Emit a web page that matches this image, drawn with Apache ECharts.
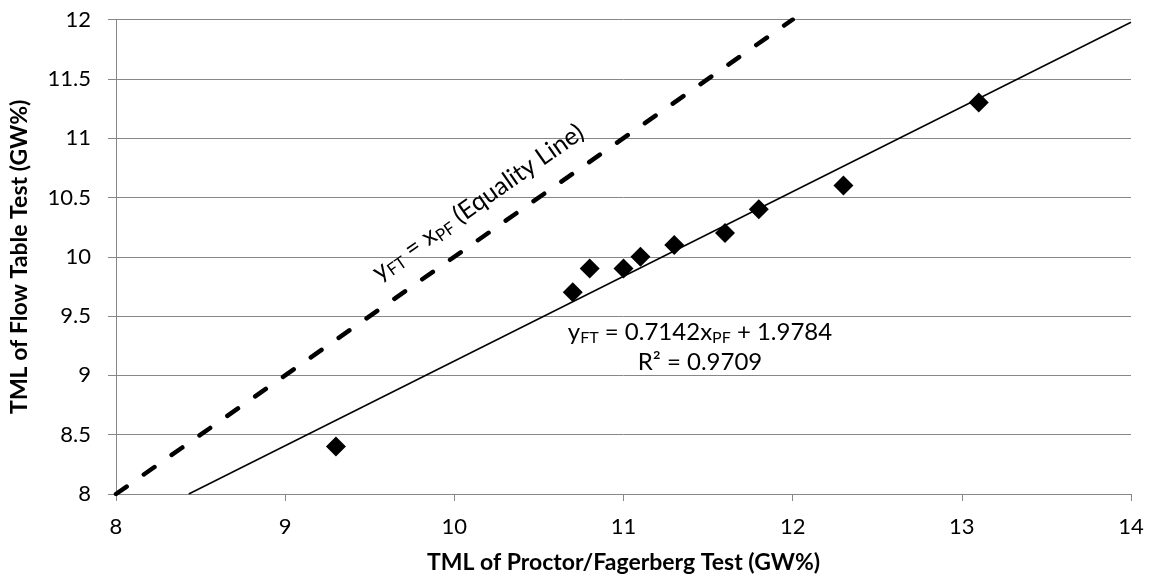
<!DOCTYPE html>
<html>
<head>
<meta charset="utf-8">
<script src="https://cdn.jsdelivr.net/npm/echarts@6/dist/echarts.min.js"></script>
<style>
  html, body { margin: 0; padding: 0; background: #fff; }
  #chart { width: 1150px; height: 582px; }
</style>
</head>
<body>
<div id="chart"></div>
<script>
// measured points (x = Proctor/Fagerberg, y = Flow Table)
var pfValues = [9.3, 10.7, 10.8, 11.0, 11.1, 11.3, 11.6, 11.8, 12.3, 13.1];
var ftValues = [8.4, 9.7, 9.9, 9.9, 10.0, 10.1, 10.2, 10.4, 10.6, 11.3];
// trend line end points and equality line end points
var trendX = [8.43, 14];
var trendY = [8.0, 11.977];
var equalX = [8, 12];
var equalY = [8, 12];

var font = 'Lato, "Liberation Sans", sans-serif';
var gridColor = '#878787';

var chart = echarts.init(document.getElementById('chart'));

function pairs(xs, ys) {
  return xs.map(function (x, i) { return [x, ys[i]]; });
}

function richStyles(size) {
  return {
    m: { fontFamily: font, fontSize: size, lineHeight: size + 4, verticalAlign: 'middle', fill: '#000' },
    s: { fontFamily: font, fontSize: Math.round(size * 0.66), lineHeight: Math.round(size * 0.62), verticalAlign: 'bottom', fill: '#000' }
  };
}

chart.setOption({
  animation: false,
  grid: { left: 116, right: 19, top: 19.5, bottom: 88, outerBoundsMode: 'none', containLabel: false },
  xAxis: {
    type: 'value',
    min: 8, max: 14, interval: 1,
    name: 'TML of Proctor/Fagerberg Test (GW%)',
    nameLocation: 'middle',
    nameGap: 57,
    nameTextStyle: { fontFamily: font, fontWeight: 'bold', fontSize: 23, color: '#000' },
    axisLine: { show: true, lineStyle: { color: gridColor, width: 1 } },
    axisTick: { show: true, length: 7, lineStyle: { color: gridColor } },
    axisLabel: { fontFamily: font, fontSize: 22, color: '#000', margin: 22 },
    splitLine: { show: false }
  },
  yAxis: {
    type: 'value',
    min: 8, max: 12, interval: 0.5,
    name: 'TML of Flow Table Test (GW%)',
    nameLocation: 'middle',
    nameGap: 85,
    nameTextStyle: { fontFamily: font, fontWeight: 'bold', fontSize: 23, color: '#000' },
    axisLine: { show: true, lineStyle: { color: gridColor, width: 1 } },
    axisTick: { show: true, length: 8, lineStyle: { color: gridColor } },
    axisLabel: { fontFamily: font, fontSize: 22, color: '#000', margin: 25 },
    splitLine: { show: true, lineStyle: { color: gridColor, width: 1 } }
  },
  series: [
    {
      type: 'line',
      data: pairs(equalX, equalY),
      symbol: 'none',
      lineStyle: { color: '#000', width: 4.5, type: [13, 21], cap: 'round' },
      z: 2
    },
    {
      type: 'line',
      data: pairs(trendX, trendY),
      symbol: 'none',
      lineStyle: { color: '#000', width: 1.5 },
      z: 2
    },
    {
      type: 'scatter',
      data: pairs(pfValues, ftValues),
      symbol: 'diamond',
      symbolSize: 20,
      itemStyle: { color: '#000', opacity: 1 },
      z: 3
    }
  ],
  graphic: [
    {
      type: 'text',
      x: 478, y: 202,
      rotation: 0.612,
      z: 10,
      style: {
        text: '{m|y}{s|FT}{m| = x}{s|PF}{m| (Equality Line)}',
        align: 'center',
        verticalAlign: 'middle',
        rich: richStyles(25)
      }
    },
    {
      type: 'text',
      x: 700, y: 332,
      z: 10,
      style: {
        text: '{m|y}{s|FT}{m| = 0.7142x}{s|PF}{m| + 1.9784}',
        align: 'center',
        verticalAlign: 'middle',
        rich: richStyles(24)
      }
    },
    {
      type: 'text',
      x: 700, y: 362,
      z: 10,
      style: {
        text: 'R² = 0.9709',
        align: 'center',
        verticalAlign: 'middle',
        fontFamily: font,
        fontSize: 24,
        fill: '#000'
      }
    }
  ]
});
</script>
</body>
</html>
